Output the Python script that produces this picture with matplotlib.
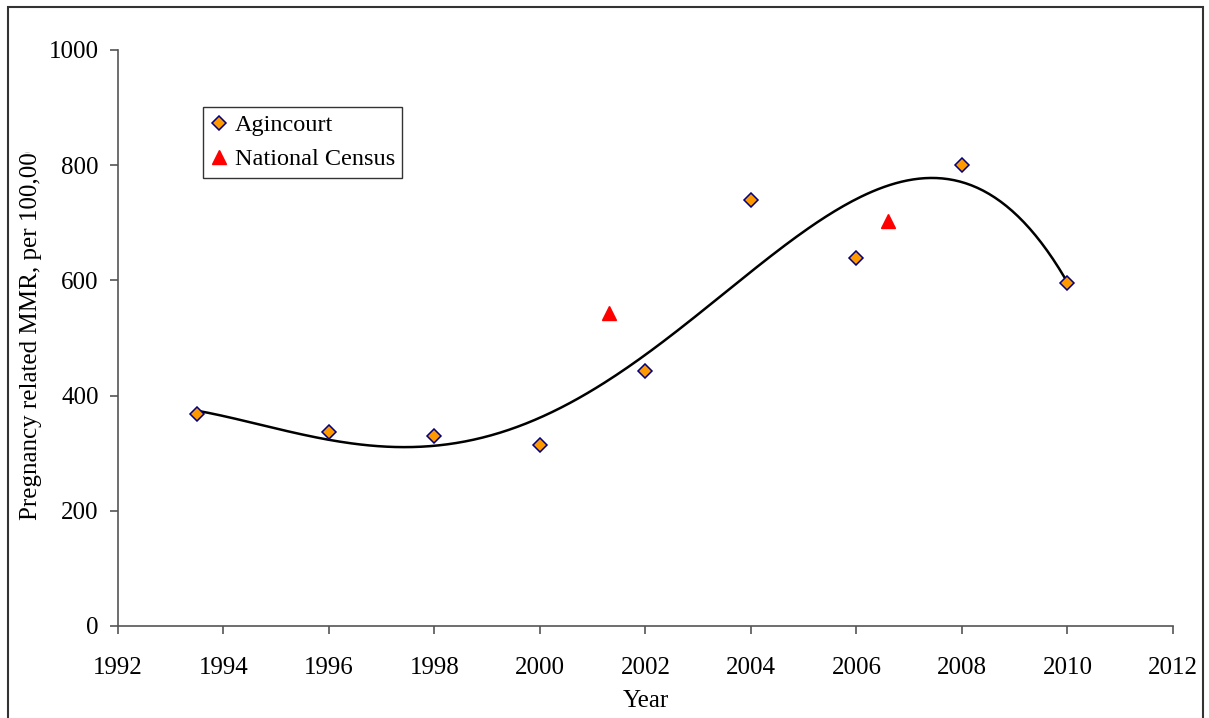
import numpy as np
import matplotlib.pyplot as plt
from matplotlib.patches import Rectangle
from matplotlib.transforms import Bbox

# data
agin_years = [1993.5, 1996, 1998, 2000, 2002, 2004, 2006, 2008, 2010]
agin_mmr = [368, 337, 330, 314, 443, 740, 639, 800, 595]
census_years = [2001.3, 2006.6]
census_mmr = [543, 703]
trend_degree = 4  # polynomial trendline fitted to the Agincourt points

plt.rcParams['font.family'] = ['Liberation Serif', 'DejaVu Serif']
plt.rcParams['font.size'] = 18

fig = plt.figure(figsize=(12.09, 7.18), dpi=100)
ax = fig.add_axes([118/1209, 1 - 626/718, (1173-118)/1209, (626-50)/718])

# trendline
p = np.polyfit(agin_years, agin_mmr, trend_degree)
xs = np.linspace(agin_years[0], agin_years[-1], 300)
ax.plot(xs, np.polyval(p, xs), color='black', lw=1.8, zorder=2)

ax.plot(agin_years, agin_mmr, linestyle='none', marker='D', ms=7.5,
        mfc='#FF9900', mec='#000080', mew=1.1, label='Agincourt', zorder=3)
ax.plot(census_years, census_mmr, linestyle='none', marker='^', ms=9.5,
        mfc='#FF0000', mec='#FF0000', label='National Census', zorder=3)

ax.set_xlim(1992, 2012)
ax.set_ylim(0, 1000)
ax.set_xticks(range(1992, 2013, 2))
ax.set_yticks(range(0, 1001, 200))
for s in ['top', 'right']:
    ax.spines[s].set_visible(False)
for s in ['left', 'bottom']:
    ax.spines[s].set_color('#555555')
    ax.spines[s].set_linewidth(1.2)
ax.tick_params(direction='out', length=6, width=1.2, color='#555555')
ax.tick_params(axis='x', pad=16)
ax.tick_params(axis='y', pad=8)

ax.set_xlabel('Year', labelpad=8)
# the label is cut off at the top in the original
yl = ax.set_ylabel('Pregnancy related MMR, per 100,000', fontsize=18)
ax.yaxis.set_label_coords(-76/1055, (626-330)/576)
yl.set_clip_on(True)
yl.set_clip_box(Bbox([[0, 0], [1209, 718 - 152]]))

leg = ax.legend(loc='upper left', bbox_to_anchor=((203-118)/1055, (626-107)/576),
                fontsize=17.5, frameon=True, fancybox=False, borderpad=0.3,
                handletextpad=0.3, labelspacing=0.5, handlelength=0.7,
                borderaxespad=0)
leg.get_frame().set_edgecolor('black')
leg.get_frame().set_linewidth(1.0)

fig.patches.append(Rectangle((8/1209, -0.01), (1203-8)/1209, (718-7)/718 + 0.01,
                             transform=fig.transFigure, fill=False,
                             edgecolor='#333333', linewidth=1.5))

fig.savefig('out.png', dpi=100)
